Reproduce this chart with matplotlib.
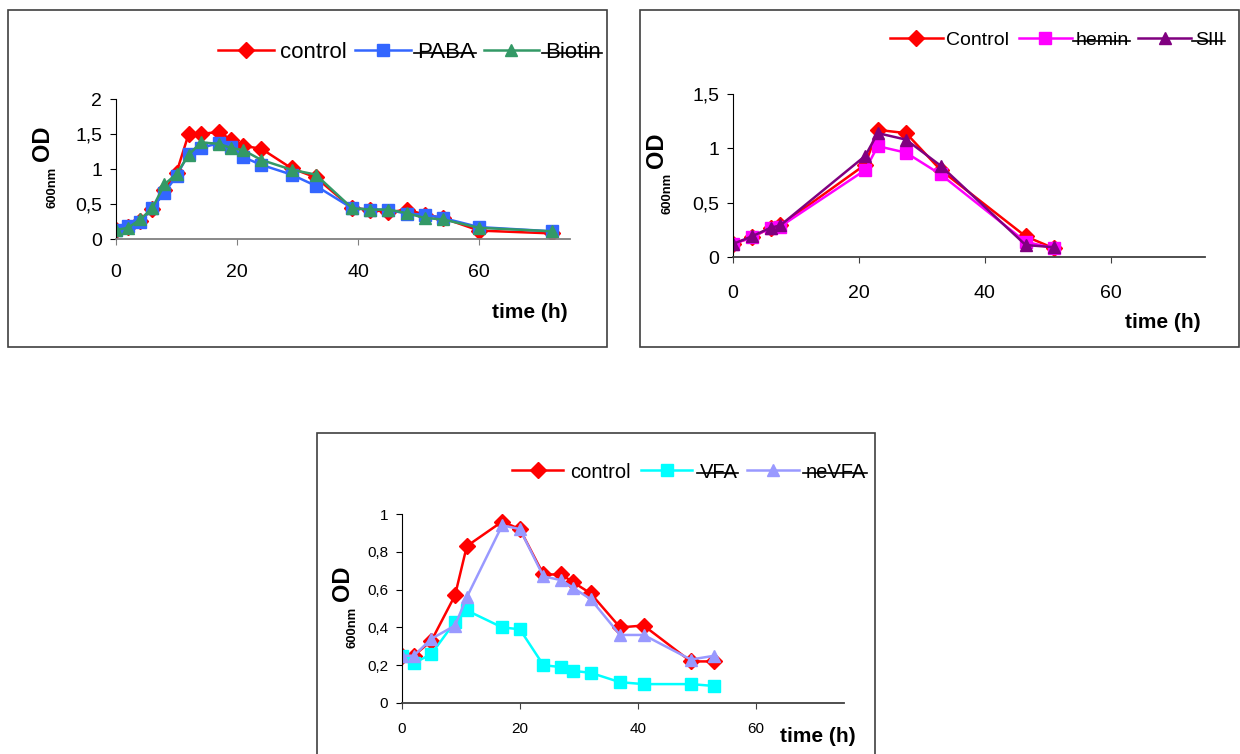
import matplotlib
matplotlib.use("Agg")
import matplotlib.pyplot as plt
from matplotlib.patches import Rectangle
from matplotlib.lines import Line2D

plt.rcParams['font.family'] = ['Liberation Sans', 'DejaVu Sans']

W, H = 1240, 754

# growth curves, OD600 vs time (h)
t1 = [0, 2, 4, 6, 8, 10, 12, 14, 17, 19, 21, 24, 29, 33, 39, 42, 45, 48, 51, 54, 60, 72]
control1 = [0.13, 0.17, 0.26, 0.43, 0.70, 0.95, 1.50, 1.50, 1.53, 1.42, 1.33, 1.29,
            1.01, 0.88, 0.44, 0.42, 0.38, 0.42, 0.35, 0.30, 0.12, 0.08]
paba = [0.13, 0.18, 0.25, 0.44, 0.66, 0.90, 1.22, 1.30, 1.37, 1.32, 1.17, 1.06,
        0.92, 0.76, 0.44, 0.42, 0.42, 0.36, 0.35, 0.30, 0.17, 0.11]
biotin = [0.13, 0.16, 0.28, 0.44, 0.78, 0.93, 1.20, 1.38, 1.36, 1.30, 1.27, 1.13,
          0.99, 0.92, 0.44, 0.42, 0.42, 0.37, 0.30, 0.28, 0.16, 0.11]

t2 = [0, 3, 6, 7.5, 21, 23, 27.5, 33, 46.5, 51]
control2 = [0.12, 0.18, 0.27, 0.29, 0.85, 1.17, 1.14, 0.80, 0.19, 0.08]
hemin = [0.12, 0.18, 0.27, 0.28, 0.80, 1.02, 0.96, 0.76, 0.14, 0.08]
s3 = [0.12, 0.19, 0.27, 0.29, 0.93, 1.14, 1.08, 0.84, 0.11, 0.09]

t3 = [0, 2, 5, 9, 11, 17, 20, 24, 27, 29, 32, 37, 41, 49, 53]
control3 = [0.25, 0.25, 0.33, 0.57, 0.83, 0.96, 0.92, 0.68, 0.68, 0.64, 0.58,
            0.40, 0.41, 0.22, 0.22]
vfa = [0.25, 0.21, 0.26, 0.43, 0.49, 0.40, 0.39, 0.20, 0.19, 0.17, 0.16,
       0.11, 0.10, 0.10, 0.09]
nevfa = [0.25, 0.25, 0.34, 0.41, 0.56, 0.94, 0.92, 0.67, 0.65, 0.61, 0.55,
         0.36, 0.36, 0.23, 0.25]

xticks = [0, 20, 40, 60]
yticks1 = [0, 0.5, 1, 1.5, 2]
ylabels1 = ['0', '0,5', '1', '1,5', '2']
yticks2 = [0, 0.5, 1, 1.5]
ylabels2 = ['0', '0,5', '1', '1,5']
yticks3 = [0, 0.2, 0.4, 0.6, 0.8, 1]
ylabels3 = ['0', '0,2', '0,4', '0,6', '0,8', '1']

fig = plt.figure(figsize=(W / 100, H / 100), dpi=100)


def px_axes(left, right, top, bottom):
    return fig.add_axes([left / W, 1 - bottom / H, (right - left) / W, (bottom - top) / H])


def px_box(left, right, top, bottom):
    fig.patches.append(Rectangle((left / W, 1 - bottom / H), (right - left) / W,
                                 (bottom - top) / H, transform=fig.transFigure,
                                 fill=False, edgecolor='#404040', lw=1.2))


def style(ax, ymax, yt, yl, fs, pad_x, axis_col):
    ax.set_xlim(0, 75)
    ax.set_ylim(0, ymax)
    ax.set_xticks(xticks)
    ax.set_xticklabels([str(v) for v in xticks])
    ax.set_yticks(yt)
    ax.set_yticklabels(yl)
    for s in ['top', 'right']:
        ax.spines[s].set_visible(False)
    ax.spines['left'].set_color('black')
    ax.spines['bottom'].set_color(axis_col)
    ax.spines['bottom'].set_linewidth(1.3)
    ax.tick_params(axis='y', length=4, labelsize=fs, pad=6)
    ax.tick_params(axis='x', length=4, labelsize=fs, pad=pad_x, color=axis_col)
    ax.patch.set_alpha(0)


def ylabel(x_od, y_od, x_nm, y_nm, fs):
    fig.text(x_od / W, 1 - y_od / H, 'OD', rotation=90, ha='center', va='center',
             fontsize=fs, fontweight='bold')
    fig.text(x_nm / W, 1 - y_nm / H, '600nm', rotation=90, ha='center', va='center',
             fontsize=fs * 0.55, fontweight='bold')


def xlabel(x, y):
    fig.text(x / W, 1 - y / H, 'time (h)', ha='center', va='center', fontsize=15,
             fontweight='bold')


def strike(leg, names):
    fig.canvas.draw()
    r = fig.canvas.get_renderer()
    for txt in leg.get_texts():
        if txt.get_text() in names:
            bb = txt.get_window_extent(r)
            ym = (bb.y0 + bb.y1) / 2 - 1
            fig.add_artist(Line2D([(bb.x0 - 3) / W, (bb.x1 + 1) / W], [ym / H, ym / H],
                                  transform=fig.transFigure, color='black', lw=1.2))


def legend(ax, x, y, fs, hl, tp, cs):
    return ax.legend(loc='center left', bbox_to_anchor=(x / W, 1 - y / H),
                     bbox_transform=fig.transFigure, ncol=3, frameon=False, fontsize=fs,
                     handlelength=hl, handletextpad=tp, columnspacing=cs,
                     borderpad=0, borderaxespad=0)


# panel 1: control / PABA / Biotin
px_box(8, 607, 10, 347)
ax1 = px_axes(116, 570, 99, 239)
ax1.plot(t1, control1, color='#FF0000', marker='D', ms=8, lw=1.8, label='control')
ax1.plot(t1, paba, color='#3366FF', marker='s', ms=9, lw=1.8, label='PABA')
ax1.plot(t1, biotin, color='#339966', marker='^', ms=9, lw=1.8, label='Biotin')
style(ax1, 2, yticks1, ylabels1, 14, 14, '#808080')
ylabel(42, 143, 53, 187, 17)
xlabel(530, 313)
leg1 = legend(ax1, 218, 52, 16, 2.5, 0.27, 0.4)

# panel 2: Control / hemin / SIII
px_box(640, 1239, 10, 347)
ax2 = px_axes(733, 1205, 94, 257)
ax2.plot(t2, control2, color='#FF0000', marker='D', ms=8, lw=1.8, label='Control')
ax2.plot(t2, hemin, color='#FF00FF', marker='s', ms=9, lw=1.8, label='hemin')
ax2.plot(t2, s3, color='#800080', marker='^', ms=9, lw=1.8, label='SIII')
style(ax2, 1.5, yticks2, ylabels2, 14, 16, '#404040')
ylabel(657, 150, 667, 193, 17)
xlabel(1163, 323)
leg2 = legend(ax2, 890, 40, 14, 2.7, 0.2, 0.5)

# panel 3: control / VFA / neVFA
px_box(317, 875, 433, 760)
ax3 = px_axes(402, 844, 514, 703)
ax3.plot(t3, control3, color='#FF0000', marker='D', ms=8, lw=1.8, label='control')
ax3.plot(t3, vfa, color='#00FFFF', marker='s', ms=9, lw=1.8, label='VFA')
ax3.plot(t3, nevfa, color='#9999FF', marker='^', ms=9, lw=1.8, label='neVFA')
style(ax3, 1, yticks3, ylabels3, 11, 10, '#404040')
ylabel(343, 583, 352, 627, 17)
xlabel(818, 737)
leg3 = legend(ax3, 512, 472, 14.5, 2.55, 0.35, 0.5)

strike(leg1, ['PABA', 'Biotin'])
strike(leg2, ['hemin', 'SIII'])
strike(leg3, ['VFA', 'neVFA'])

fig.savefig('out.png', dpi=100)
